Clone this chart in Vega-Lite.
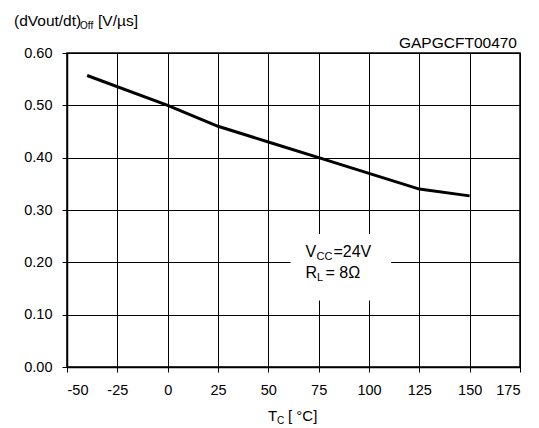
{
  "$schema": "https://vega.github.io/schema/vega-lite/v6.json",
  "width": 453,
  "height": 314,
  "autosize": {"type": "none"},
  "padding": {"left": 67, "top": 53, "right": 19, "bottom": 61},
  "background": "white",
  "config": {
    "view": {"stroke": "black", "strokeWidth": 1.5},
    "font": "Liberation Sans",
    "axis": {
      "gridColor": "black", "gridOpacity": 1, "gridWidth": 1,
      "domainColor": "black", "domainWidth": 1.5,
      "tickColor": "black", "tickSize": 5, "tickWidth": 1,
      "labelColor": "black", "labelFont": "Liberation Sans", "labelFontSize": 14.5,
      "title": null
    },
    "text": {"font": "Liberation Sans", "color": "black", "baseline": "alphabetic", "align": "left"}
  },
  "layer": [
    {
      "data": {"values": [{"x1": 61, "x2": 111, "y1": 0.127, "y2": 0.254}]},
      "mark": {"type": "rect", "fill": "white", "strokeWidth": 0},
      "encoding": {
        "x": {"field": "x1", "type": "quantitative", "scale": {"domain": [-50, 175], "nice": false},
              "axis": {"values": [-50, -25, 0, 25, 50, 75, 100, 125, 150, 175], "labelExpr": "toString(datum.value)", "labelPadding": 11, "grid": true}},
        "x2": {"field": "x2"},
        "y": {"field": "y1", "type": "quantitative", "scale": {"domain": [0, 0.6], "nice": false},
              "axis": {"values": [0, 0.1, 0.2, 0.3, 0.4, 0.5, 0.6], "format": ".2f", "labelPadding": 10, "grid": true}},
        "y2": {"field": "y2"}
      }
    },
    {
      "data": {"values": [
        {"tc": -40, "v": 0.557},
        {"tc": 0, "v": 0.5},
        {"tc": 25, "v": 0.46},
        {"tc": 50, "v": 0.43},
        {"tc": 75, "v": 0.4},
        {"tc": 100, "v": 0.37},
        {"tc": 125, "v": 0.34},
        {"tc": 150, "v": 0.327}
      ]},
      "mark": {"type": "line", "color": "black", "strokeWidth": 3},
      "encoding": {
        "x": {"field": "tc", "type": "quantitative"},
        "y": {"field": "v", "type": "quantitative"}
      }
    },
    {
      "data": {"values": [{"t": "V"}]},
      "mark": {"type": "text", "fontSize": 16, "dx": 15, "dy": -5},
      "encoding": {"x": {"datum": 61}, "y": {"datum": 0.2}, "text": {"field": "t"}}
    },
    {
      "data": {"values": [{"t": "CC"}]},
      "mark": {"type": "text", "fontSize": 11, "dx": 26, "dy": -2},
      "encoding": {"x": {"datum": 61}, "y": {"datum": 0.2}, "text": {"field": "t"}}
    },
    {
      "data": {"values": [{"t": "=24V"}]},
      "mark": {"type": "text", "fontSize": 16, "dx": 43, "dy": -5},
      "encoding": {"x": {"datum": 61}, "y": {"datum": 0.2}, "text": {"field": "t"}}
    },
    {
      "data": {"values": [{"t": "R"}]},
      "mark": {"type": "text", "fontSize": 16, "dx": 15, "dy": 16},
      "encoding": {"x": {"datum": 61}, "y": {"datum": 0.2}, "text": {"field": "t"}}
    },
    {
      "data": {"values": [{"t": "L"}]},
      "mark": {"type": "text", "fontSize": 11, "dx": 26.5, "dy": 19},
      "encoding": {"x": {"datum": 61}, "y": {"datum": 0.2}, "text": {"field": "t"}}
    },
    {
      "data": {"values": [{"t": "= 8Ω"}]},
      "mark": {"type": "text", "fontSize": 16, "dx": 35, "dy": 16},
      "encoding": {"x": {"datum": 61}, "y": {"datum": 0.2}, "text": {"field": "t"}}
    },
    {
      "data": {"values": [{"t": "GAPGCFT00470"}]},
      "mark": {"type": "text", "fontSize": 15.5, "align": "right", "dx": -3, "dy": -5},
      "encoding": {"x": {"datum": 175}, "y": {"datum": 0.6}, "text": {"field": "t"}}
    },
    {
      "data": {"values": [{"t": "(dVout/dt)"}]},
      "mark": {"type": "text", "fontSize": 15.5, "dx": -53, "dy": -27},
      "encoding": {"x": {"datum": -50}, "y": {"datum": 0.6}, "text": {"field": "t"}}
    },
    {
      "data": {"values": [{"t": "Off"}]},
      "mark": {"type": "text", "fontSize": 10, "dx": 13, "dy": -24},
      "encoding": {"x": {"datum": -50}, "y": {"datum": 0.6}, "text": {"field": "t"}}
    },
    {
      "data": {"values": [{"t": "[V/µs]"}]},
      "mark": {"type": "text", "fontSize": 15.5, "dx": 31, "dy": -27},
      "encoding": {"x": {"datum": -50}, "y": {"datum": 0.6}, "text": {"field": "t"}}
    },
    {
      "data": {"values": [{"t": "T"}]},
      "mark": {"type": "text", "fontSize": 15, "dx": -25.5, "dy": 54},
      "encoding": {"x": {"datum": 62.5}, "y": {"datum": 0}, "text": {"field": "t"}}
    },
    {
      "data": {"values": [{"t": "C"}]},
      "mark": {"type": "text", "fontSize": 10, "dx": -16.5, "dy": 57},
      "encoding": {"x": {"datum": 62.5}, "y": {"datum": 0}, "text": {"field": "t"}}
    },
    {
      "data": {"values": [{"t": "[ °C]"}]},
      "mark": {"type": "text", "fontSize": 15, "dx": -5.5, "dy": 54},
      "encoding": {"x": {"datum": 62.5}, "y": {"datum": 0}, "text": {"field": "t"}}
    }
  ]
}
